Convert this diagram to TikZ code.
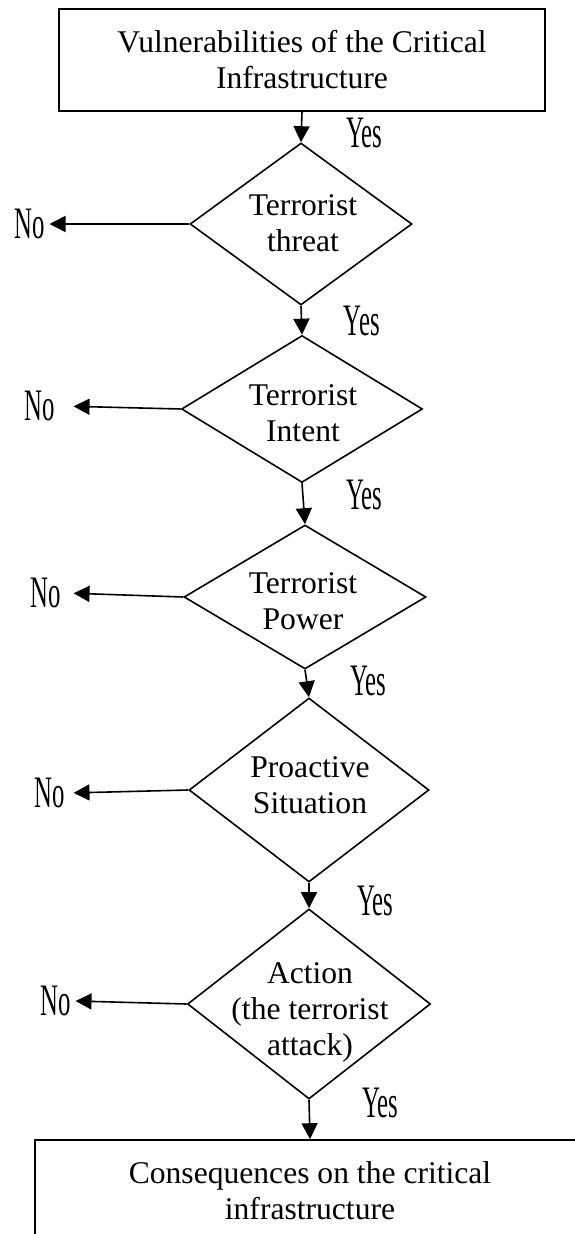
\documentclass[tikz,border=0pt]{standalone}
\usepackage{fontspec}
\setmainfont{Liberation Serif}
\usetikzlibrary{shapes.geometric,arrows.meta}

\newcommand{\narrow}[1]{\scalebox{0.55}[1]{\fontsize{22.5}{25}\selectfont #1}}

\begin{document}
\begin{tikzpicture}[x=0.5pt,y=-0.5pt,
		every node/.style={font=\fontsize{15.8}{18}\selectfont},
		box/.style={draw=black,line width=0.8pt,rectangle,align=center,inner sep=0pt},
		dia/.style={draw=black,line width=0.8pt,diamond,inner sep=0pt},
		dtext/.style={align=center,inner sep=0pt},
		answer/.style={inner sep=2pt},
		flow/.style={draw=black,line width=0.8pt,-{Triangle[length=8pt,width=8pt]}}]
	\useasboundingbox (0,0) rectangle (574,1234);
	\node [box,minimum width=243pt,minimum height=51pt] (vuln) at (302,60) {Vulnerabilities of the Critical\\Infrastructure};
	\node [dia,minimum width=111pt,minimum height=81pt] (threat) at (301,224) {};
	\node [dia,minimum width=120.5pt,minimum height=73.5pt] (intent) at (302,409) {};
	\node [dia,minimum width=121pt,minimum height=72pt] (power) at (305,597) {};
	\node [dia,minimum width=120pt,minimum height=92pt] (situation) at (309,790) {};
	\node [dia,minimum width=121.5pt,minimum height=95pt] (action) at (309,1004) {};
	\node [box,minimum width=275pt,minimum height=51pt] (conseq) at (310,1191) {Consequences on the critical\\infrastructure};
	\node [dtext] (tthreat) at (303,223) {Terrorist\\threat};
	\node [dtext] (tintent) at (303,413) {Terrorist\\Intent};
	\node [dtext] (tpower) at (303,601) {Terrorist\\Power};
	\node [dtext] (tsituation) at (310,785) {Proactive\\Situation};
	\node [dtext] (taction) at (310,1012) {Action\\(the terrorist\\attack)};
	\node [answer] (yes1) at (364,133) {\narrow{Yes}};
	\node [answer] (yes2) at (362,321) {\narrow{Yes}};
	\node [answer] (yes3) at (364,495) {\narrow{Yes}};
	\node [answer] (yes4) at (368,681) {\narrow{Yes}};
	\node [answer] (yes5) at (375,901) {\narrow{Yes}};
	\node [answer] (yes6) at (380,1103) {\narrow{Yes}};
	\node [answer] (no1) at (30,224) {\narrow{No}};
	\node [answer] (no2) at (40,406) {\narrow{No}};
	\node [answer] (no3) at (46,593) {\narrow{No}};
	\node [answer] (no4) at (50,793) {\narrow{No}};
	\node [answer] (no5) at (56,1001) {\narrow{No}};
	\draw [flow] (vuln.south) -- (threat.north);
	\draw [flow] (threat.south) -- (intent.north);
	\draw [flow] (intent.south) -- (power.north);
	\draw [flow] (power.south) -- (situation.north);
	\draw [flow] (situation.south) -- (action.north);
	\draw [flow] (action.south) -- (conseq.north);
	\draw [flow] (threat.west) -- (no1.east);
	\draw [flow,shorten >=7pt] (intent.west) -- (no2.east);
	\draw [flow,shorten >=4pt] (power.west) -- (no3.east);
	\draw [flow,shorten >=2pt] (situation.west) -- (no4.east);
	\draw [flow] (action.west) -- (no5.east);
\end{tikzpicture}
\end{document}
